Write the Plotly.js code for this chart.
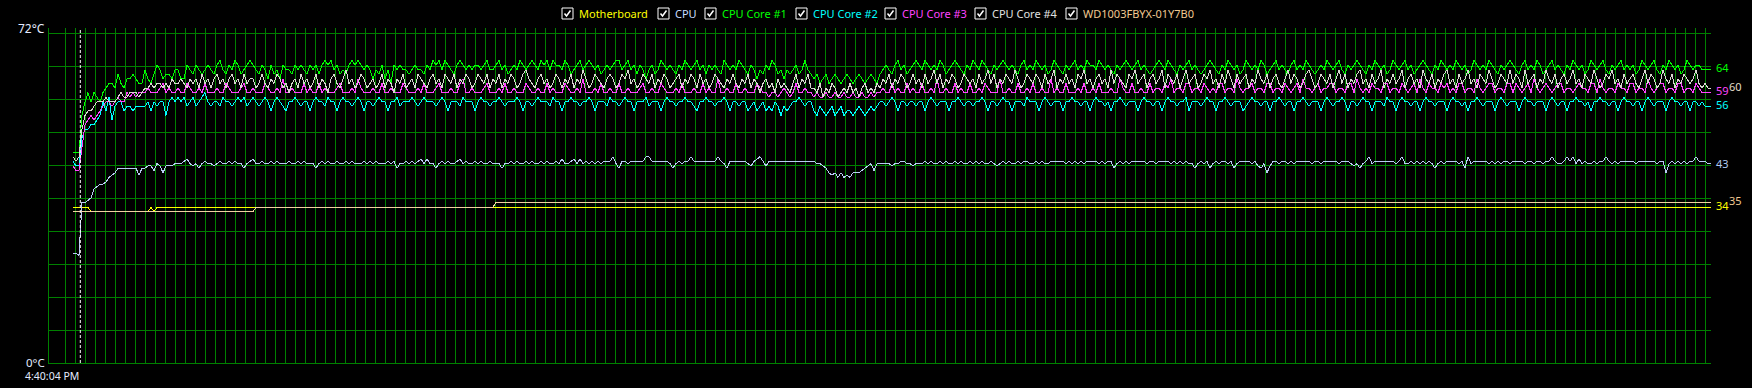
<!DOCTYPE html>
<html><head><meta charset="utf-8">
<script src="https://cdn.plot.ly/plotly-3.0.1.min.js"></script>
<style>html,body{margin:0;padding:0;background:#000;}#chart{width:1752px;height:388px;}
#chart .scatterlayer path.js-line{shape-rendering:crispEdges;}</style>
</head><body><div id="chart"></div>
<script>
// ---------------- DATA ----------------
const seriesNames = ["Motherboard","CPU","CPU Core #1","CPU Core #2","CPU Core #3","CPU Core #4","WD1003FBYX-01Y7B0"];
const seriesColors = ["#ffff00","#b8ccf4","#00ff00","#00ffff","#ff44ff","#d8d8d0","#f2d2a0"];
const legendColors = ["#ffff00","#c8dcff","#00ff00","#00ffff","#ff44ff","#e0e0e0","#f0c890"];
const valueLabelColors = ["#ffff00","#b0c8f0","#00ff00","#00ffff","#ff44ff","#e0dcc8","#f0c890"];
const currentValues = [34,43,64,56,59,60,35];
const startTimeLabel = "4:40:04 PM";
const yTopLabel = "72°C";
const yBottomLabel = "0°C";

// Motherboard & WD readings: sample index where a new reading begins, and the reading
const mbChangeAt = [0,6,26,27,28];
const mbValues   = [34,33,34,33,34];
const wdChangeAt = [0,61,141];
const wdValues   = [33,34,35];

const cpu = [
24,24,23.5,35,35,35.5,36,38,38.5,39,39,39.5,40.5,41,41.5,42.5,42.5,42.5,42.5,42.5,
42.5,42.5,41,42.5,42.5,43,43,42,43.5,43,41.5,43,43,43,43.5,43.5,43.5,44,44.5,43.5,
43,43.5,42.5,43.5,44,43.5,43.5,43,43.5,44,43.5,43.5,44,43.5,44,43.5,43.5,42.5,43.5,44,
44.5,43.5,43.5,44,43.5,43.5,44,43.5,44,43.5,43.5,43.5,44,43.5,43.5,44,43.5,44,43.5,43.5,
43.5,42.5,43.5,44,43.5,44,43.5,43.5,44,43.5,43.5,44,43.5,44,43.5,43.5,43.5,44,43.5,44,
43.5,44,43.5,43.5,43.5,44,43.5,44,42.5,43.5,43.5,44,43.5,44,43.5,44,44.5,43.5,44.5,43.5,
43.5,42.5,43.5,44,43.5,44,43.5,43.5,44,44.5,43.5,44,43.5,43.5,44,43.5,44,43.5,43.5,44,
43.5,43.5,43.5,42.5,43.5,43.5,44,43.5,44,43.5,43.5,44,43.5,44,43.5,43.5,44,43.5,44,43.5,
43.5,44,43.5,44.5,43.5,43.5,44,44.5,43.5,44.5,43.5,44,43.5,44,43.5,44,43.5,44,44,44,
45,43.5,42.5,44,44,43.5,44,44,44,44,44,45,45,44,44,44,44,44,44,43.5,
42.5,43.5,44,43.5,44,44,45,44,44,44,44,44,44,44,44,45,44,43.5,42.5,44,
44,44,44,44,44,43.5,43,44,44.5,45,44,43,44,44,44,44,44,44,44,44,
44,44,44,44,44,44,44,44,43.5,43.5,43,42.5,41.5,41,41.5,40.5,41.5,40.5,41,40.5,
41.5,41.5,41.5,42,42.5,43,43.5,42,43.5,43.5,43.5,43.5,43.5,43,43.5,43.5,44,44,43.5,43.5,
43,43.5,43.5,43.5,44,43.5,44,43.5,43.5,44,43.5,44,43.5,43.5,44,43.5,44,43.5,43.5,44,
43.5,44,43.5,44,43.5,43.5,44,43.5,43,43.5,44,43.5,44,43.5,43.5,44,43.5,44,44,43.5,
43.5,44,43.5,44,43.5,43.5,44,44,44,44,44,43.5,44,43.5,44,43.5,44,43.5,44,44,
44,44,43.5,44,43.5,44,44,42.5,43.5,44,43.5,44,43.5,44,44,44,44,44,43.5,44,
44,43.5,44,44,44,44,43.5,44,43.5,44,43.5,44,43.5,43.5,42.5,43.5,44,43.5,44,42.5,
43.5,44,43.5,44,44,43.5,44,42.5,43.5,44,44,44,44,43.5,44,43,42.5,43.5,41.5,43,
44,44,43.5,44,44,43.5,44,43.5,44,44,44,44,44,43.5,44,44,43.5,44,44,44,
44,44,43.5,44,44,44,43.5,43,43.5,42.5,43.5,44,45,43.5,44,44,44,44,44,44,
44,43.5,44,45,43.5,43.5,44,43.5,44,43.5,44,43.5,44,43.5,42.5,43.5,44,43.5,44,44,
44,44,43.5,44,42.5,45,43.5,44,44,44,44,44,43.5,44,43.5,44,43.5,44,44,43.5,
44,44,44,44,43.5,44,44,43.5,44,44,43.5,44,44,45,44,43.5,43.5,44,45,44,
45,43.5,44.5,43.5,44,43.5,43.5,44,43.5,44,44,45,44,43.5,44,43.5,44,44,44,44,
44,43.5,44,44,44,44,44,44,43.5,44,44,41.5,43.5,44,43.5,44,43.5,44,43.5,44,
44,45,44,44,44,43.5,43.5];

const core1 = [
46,46,46,54,57,59,57,59,58,57,59,60,61,61,60,63,61,60,62,62,
63,62,61,61,64,62,61,63,65,64,62,63,63,62,64,64,62,62,65,64,
63,65,64,63,64,65,64,63,65,66,64,63,65,64,66,65,63,64,65,66,
65,64,63,65,64,62,65,63,64,62,65,64,64,63,65,64,65,64,63,65,
64,65,63,65,66,65,66,64,65,63,64,63,65,66,65,66,65,64,65,64,
62,64,63,65,62,64,61,65,64,65,64,64,63,64,65,64,64,63,65,64,
66,65,66,64,66,65,64,63,65,66,65,64,65,64,65,65,64,65,66,64,
64,65,66,64,65,63,64,65,64,66,65,64,65,66,65,64,66,65,66,64,
66,65,65,64,66,65,63,64,65,66,64,65,66,65,64,65,63,64,65,64,
65,66,66,64,65,66,64,65,63,65,64,62,64,65,63,64,66,65,64,65,
64,63,65,64,66,65,64,65,66,64,65,63,65,64,65,64,63,66,65,64,
65,64,66,65,64,63,65,64,62,64,63,65,64,66,65,63,64,62,64,63,
64,65,63,64,66,64,63,62,63,61,62,63,61,62,63,62,61,62,63,62,
61,62,63,62,61,62,63,62,61,63,64,65,64,63,65,66,64,65,63,64,
65,66,65,64,66,65,64,65,64,66,65,63,64,65,66,65,64,63,65,64,
66,65,64,66,65,64,63,65,64,65,66,65,64,65,64,63,65,66,64,65,
64,66,65,64,65,63,64,66,65,64,63,65,64,65,66,64,65,64,66,65,
65,64,66,65,64,65,64,63,65,64,65,66,65,64,65,66,64,65,64,63,
64,65,66,65,64,66,65,64,63,65,64,65,66,64,65,64,63,64,65,66,
65,64,63,65,64,66,65,64,65,63,64,66,65,64,65,64,66,65,63,64,
65,66,64,65,64,63,65,66,64,65,64,66,65,64,63,64,65,64,66,65,
64,65,66,64,63,65,64,65,66,65,64,63,65,64,66,65,64,65,63,64,
66,65,64,65,66,64,65,63,64,65,66,65,64,63,65,64,66,65,64,65,
64,66,65,64,65,63,64,66,65,64,65,64,66,65,64,63,65,64,65,66,
65,64,63,65,66,64,65,64,66,65,63,64,65,66,64,65,64,63,65,64,
66,65,64,65,63,64,66,65,64,65,66,64,63,65,64,65,66,64,65,64,
65,63,64,66,65,64,65,66,64,63,65,64,66,65,64,65,63,64,66,65,
64,65,65,64,64,64,64];

const core2 = [
44,43,43,49,51,51,52,52,53,54,57,55,58,53,56,57,57,55,56,56,
55,56,56,56,56,57,55,57,56,57,57,54,57,58,57,58,57,58,56,57,
58,56,57,58,59,57,56,57,57,56,58,57,57,56,57,58,57,58,56,57,
58,57,56,57,58,57,55,57,58,57,56,55,57,57,58,57,56,57,57,55,
57,58,57,57,56,58,57,57,55,57,58,57,57,56,57,58,57,55,57,57,
56,57,58,57,57,55,57,57,58,56,57,57,57,58,57,56,57,58,57,57,
57,56,57,58,57,55,57,57,57,56,58,57,57,57,55,57,58,57,57,56,
57,57,58,57,56,57,57,57,58,57,55,57,57,56,57,58,57,57,57,56,
58,57,57,55,57,57,58,57,57,56,57,57,58,57,55,57,57,57,56,58,
57,57,56,57,58,57,57,55,57,57,57,58,56,57,57,57,55,57,58,57,
57,56,57,57,58,57,57,56,55,57,57,58,57,57,56,57,57,58,57,55,
57,57,56,57,57,55,56,57,55,56,57,55,56,55,57,56,54,56,55,56,
57,57,58,57,56,57,57,55,54,56,55,54,55,56,54,55,56,54,55,55,
54,55,56,55,54,55,56,55,56,57,57,56,57,58,57,55,57,57,56,57,
57,56,57,57,55,57,58,57,56,57,57,57,55,57,57,58,57,56,57,57,
56,57,57,58,57,55,57,57,56,57,58,57,57,55,57,57,57,56,58,57,
57,57,55,57,58,57,56,57,57,57,55,57,57,58,57,57,56,57,57,55,
57,58,57,57,56,57,55,57,57,58,57,56,57,57,57,55,57,58,57,57,
56,57,57,55,57,58,57,57,56,57,57,58,55,57,57,57,56,57,58,57,
57,55,57,57,58,57,56,57,57,57,55,56,57,58,57,57,56,57,57,55,
57,57,58,57,56,57,57,55,57,57,58,57,56,57,57,57,55,57,58,57,
56,57,57,58,57,55,57,57,56,57,58,57,57,55,57,57,57,56,58,57,
57,55,57,58,57,57,56,57,57,55,57,58,57,57,56,57,57,57,55,57,
58,57,57,56,57,55,57,57,58,57,56,57,57,57,55,57,58,57,56,57,
57,57,55,57,58,57,57,56,57,57,57,55,57,58,57,56,57,57,55,57,
57,58,57,57,56,57,55,57,57,58,57,57,56,57,57,55,57,58,57,57,
56,57,57,55,57,58,57,56,57,57,57,55,57,58,57,57,56,57,57,55,
57,57,56,57,56,56,56];

const core3 = [
43,42,42,47,52,53,54,53,54,55,56,57,57,56,57,58,57,57,59,58,
59,58,59,59,59,60,59,59,59,60,61,59,60,59,59,60,59,59,61,60,
59,59,60,59,61,59,59,59,60,59,59,61,60,59,59,59,60,61,59,59,
60,59,59,59,61,60,59,59,60,59,62,59,59,60,59,59,59,61,59,60,
59,59,61,59,60,59,59,59,60,61,59,59,59,60,59,62,60,59,59,59,
60,59,59,61,59,59,60,59,59,59,61,60,59,59,59,60,59,61,59,59,
59,60,61,59,59,59,60,59,59,61,62,59,59,60,59,59,59,60,61,59,
59,59,60,59,61,59,59,60,59,59,59,61,60,59,59,60,59,59,61,59,
60,59,59,59,61,60,59,59,60,59,62,59,59,59,60,59,61,59,59,60,
59,59,61,59,59,60,59,59,59,60,61,59,59,60,59,59,61,60,59,59,
59,60,59,61,59,59,59,60,59,59,61,59,60,59,59,62,59,59,60,59,
59,61,59,59,60,59,59,59,61,60,59,59,58,59,59,58,59,60,59,58,
59,61,59,59,60,59,59,58,59,58,58,59,58,58,59,58,58,59,58,58,
59,58,58,59,58,58,59,58,59,59,60,59,59,61,59,60,59,59,61,59,
60,59,59,61,59,59,60,59,62,59,59,60,59,59,61,59,60,59,59,61,
59,59,60,59,61,60,59,59,59,62,59,59,60,59,59,61,59,59,60,59,
61,59,59,60,59,59,62,59,60,59,59,61,59,59,59,60,59,61,59,59,
60,59,61,59,59,59,60,59,59,62,60,59,59,61,59,59,60,59,59,61,
59,60,60,59,61,60,62,59,60,60,59,61,61,59,60,60,59,61,60,59,
60,59,61,61,59,60,60,59,62,60,59,60,60,61,59,60,60,59,61,61,
59,60,60,59,61,60,59,60,61,59,62,60,60,59,60,61,59,60,60,61,
61,59,60,60,59,61,61,59,62,60,59,60,59,61,60,60,59,61,61,59,
60,60,59,61,60,59,60,61,59,62,60,59,61,60,60,59,61,60,61,59,
60,59,61,61,59,60,60,59,62,60,59,60,61,61,59,60,60,59,61,61,
59,61,60,59,60,61,59,62,60,59,60,61,60,59,60,61,61,59,60,60,
59,60,61,60,60,59,61,61,59,62,60,59,60,60,59,61,60,60,59,61,
61,59,60,60,59,62,60,59,60,61,61,59,60,60,59,61,61,59,60,60,
59,61,60,59,59,59,59];

const core4 = [
45,44,45,51,54,55,55,56,57,57,57,58,57,57,57,58,59,58,58,59,
59,59,58,59,60,60,61,60,61,61,60,61,60,62,61,61,62,61,60,62,
61,62,60,63,61,62,60,62,63,61,62,60,62,63,61,62,60,63,61,62,
62,60,61,63,61,60,62,61,63,62,60,61,59,61,62,60,63,61,62,60,
61,63,60,62,61,59,62,63,61,60,62,64,61,62,60,61,63,62,60,61,
62,60,61,63,60,62,61,59,62,61,63,60,61,62,60,63,62,61,60,62,
63,61,62,60,63,62,61,63,60,62,61,63,62,60,61,63,62,61,63,60,
62,61,63,60,62,61,63,62,60,61,63,64,62,61,60,62,63,61,62,60,
61,63,62,60,62,61,63,60,62,61,64,62,60,61,63,62,61,60,62,63,
62,60,61,63,62,64,61,62,60,61,63,62,61,63,60,62,61,63,62,60,
61,62,63,60,62,61,63,62,60,63,61,62,60,61,63,62,61,60,62,61,
63,61,60,62,61,63,60,62,61,59,61,62,60,61,59,62,60,61,60,59,
61,63,60,62,61,63,60,60,59,61,58,60,59,61,60,58,59,60,59,61,
59,60,58,60,61,59,60,59,61,60,62,61,63,60,62,61,63,62,60,61,
63,61,62,60,63,61,62,64,61,63,60,62,61,63,62,60,61,63,62,61,
62,60,63,61,62,64,61,63,60,62,61,63,62,61,64,62,60,61,63,62,
61,63,62,60,63,61,62,64,60,62,61,63,61,62,60,63,62,64,61,62,
60,62,63,61,62,60,64,61,63,62,61,60,63,62,64,61,62,63,60,62,
63,61,62,64,60,63,62,61,63,60,62,64,61,62,63,60,61,63,62,64,
61,62,60,63,61,64,62,60,63,61,62,63,60,62,61,64,62,61,63,60,
62,63,61,60,62,64,61,63,62,60,61,63,64,62,60,61,63,62,61,63,
60,62,64,61,63,60,62,61,63,64,61,62,60,63,61,62,64,60,62,61,
63,61,62,64,60,62,63,61,62,60,64,62,61,63,60,62,61,63,64,61,
62,60,63,61,62,64,61,62,60,63,62,61,64,62,60,61,63,62,61,64,
61,63,62,60,64,61,62,63,60,62,61,64,62,61,63,60,62,63,61,62,
64,61,62,60,63,62,61,64,62,60,61,63,62,64,61,62,60,63,61,62,
63,61,60,62,64,61,63,62,60,61,64,62,61,63,60,62,61,63,62,61,
62,64,61,60,61,60,60];

// ---------------- LAYOUT GEOMETRY ----------------
const W = 1752, H = 388;
const M = {l:49, r:41, t:28, b:25};
const plotW = W - M.l - M.r, plotH = H - M.t - M.b;
const pxPerSample = 3;          // horizontal spacing of samples
const dataStartPx = 73;         // where the first sample sits
const gridStartPx = 65.3;       // first vertical grid line
const gridStepPx = 10;
const yGridStep = 7.2;
const pxPerDeg = 330 / 72;

const xMin = (M.l - dataStartPx) / pxPerSample;
const xMax = xMin + plotW / pxPerSample;
const yMax = plotH / pxPerDeg;

function expandSteps(changeAt, values, n){
  const out = []; let k = 0;
  for (let i = 0; i < n; i++){
    while (k + 1 < changeAt.length && i >= changeAt[k+1]) k++;
    out.push(values[k]);
  }
  return out;
}
const n = core1.length;
const motherboard = expandSteps(mbChangeAt, mbValues, n);
const wd = expandSteps(wdChangeAt, wdValues, n);
const seriesData = [motherboard, cpu, core1, core2, core3, core4, wd];

const traces = seriesData.map((ys, i) => ({
  type: 'scatter', mode: 'lines',
  x: ys.map((_, j) => j), y: ys,
  line: {color: seriesColors[i], width: 1},
  name: seriesNames[i], hoverinfo: 'skip'
}));

const xGrid = [];
for (let p = gridStartPx; p <= M.l + plotW; p += gridStepPx) xGrid.push((p - dataStartPx) / pxPerSample);
const yGrid = [];
for (let k = 0; k <= 10; k++) yGrid.push(+(k * yGridStep).toFixed(1));

const px2x = px => (px - M.l) / plotW;
const py2y = py => (H - M.b - py) / plotH;

const GRID = '#008000';
const FONT = "'Noto Sans', 'Open Sans', sans-serif";
const LABEL = '#e4ecff';
const annotations = [];
const shapes = [];

// axis labels
annotations.push({xref:'paper', yref:'paper', x:px2x(46), y:py2y(28.5), xanchor:'right', yanchor:'middle',
  text:yTopLabel, showarrow:false, borderpad:0, font:{family:FONT, size:12, color:LABEL}});
annotations.push({xref:'paper', yref:'paper', x:px2x(46), y:py2y(362), xanchor:'right', yanchor:'middle',
  text:yBottomLabel, showarrow:false, borderpad:0, font:{family:FONT, size:11.5, color:LABEL}});
annotations.push({xref:'paper', yref:'paper', x:px2x(24), y:py2y(376), xanchor:'left', yanchor:'middle',
  text:startTimeLabel, showarrow:false, borderpad:0, font:{family:FONT, size:10.5, color:LABEL}});

// current value labels on the right
const labelOffsetPx = [3, 3, 3, 3, 3, 16, 16];
seriesNames.forEach((s, i) => {
  annotations.push({xref:'paper', yref:'y', x:1, y:currentValues[i], xanchor:'left', yanchor:'middle',
    xshift: labelOffsetPx[i], yshift: 2,
    text: String(currentValues[i]), showarrow:false,
    font:{family:FONT, size:11, color:valueLabelColors[i]}});
});

// legend with checkboxes
const cbLeft = [562, 658, 705, 796, 885, 975, 1066];
const cbTop = 8, cbSize = 11;
seriesNames.forEach((s, i) => {
  const l = cbLeft[i];
  shapes.push({type:'rect', xref:'paper', yref:'paper', x0:px2x(l), x1:px2x(l+cbSize), y0:py2y(cbTop+cbSize), y1:py2y(cbTop),
    line:{color:'#ffffff', width:1}, fillcolor:'rgba(0,0,0,0)'});
  shapes.push({type:'path', xref:'paper', yref:'paper',
    path:`M ${px2x(l+2.5)},${py2y(cbTop+5.5)} L ${px2x(l+4.5)},${py2y(cbTop+8)} L ${px2x(l+8.5)},${py2y(cbTop+2.5)}`,
    line:{color:'#ffffff', width:1.5}});
  annotations.push({xref:'paper', yref:'paper', x:px2x(l+cbSize+4), y:py2y(13.5), xanchor:'left', yanchor:'middle',
    text:s, showarrow:false, font:{family:FONT, size:11, color:legendColors[i]}});
});

// dashed marker line
const markerPx = 80.3;
shapes.push({type:'line', xref:'x', yref:'paper', x0:(markerPx-dataStartPx)/pxPerSample, x1:(markerPx-dataStartPx)/pxPerSample, y0:0, y1:1,
  line:{color:'#ffffff', width:1, dash:'3px,2px'}, layer:'above'});

const layout = {
  width: W, height: H, margin: M,
  paper_bgcolor:'#000000', plot_bgcolor:'#000000',
  showlegend:false,
  xaxis:{range:[xMin, xMax], tickvals:xGrid, showticklabels:false, ticks:'', showgrid:true, gridcolor:GRID, gridwidth:1,
    zeroline:false, showline:true, linecolor:GRID, linewidth:1, fixedrange:true},
  yaxis:{range:[0, yMax], tickvals:yGrid, showticklabels:false, ticks:'', showgrid:true, gridcolor:GRID, gridwidth:1,
    zeroline:false, showline:true, linecolor:GRID, linewidth:1, fixedrange:true},
  annotations, shapes
};

Plotly.newPlot('chart', traces, layout, {staticPlot:true, displayModeBar:false});
</script>
</body></html>
